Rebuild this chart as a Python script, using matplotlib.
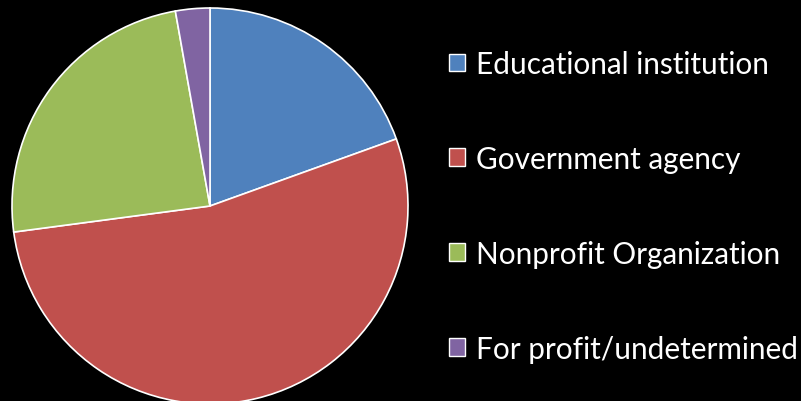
import matplotlib
matplotlib.use("Agg")
import matplotlib.pyplot as plt

labels = ["Educational institution", "Government agency",
          "Nonprofit Organization", "For profit/undetermined"]
shares = [19.5, 53.4, 24.3, 2.8]
colors = ["#4f81bd", "#c0504d", "#9bbb59", "#8064a2"]

fig = plt.figure(figsize=(8.01, 4.02), dpi=100, facecolor="black")
ax = fig.add_axes([12 / 801, -3 / 402, 396 / 801, 396 / 402])
ax.set_facecolor("black")

wedges, _ = ax.pie(shares, colors=colors, startangle=90, counterclock=False,
                   wedgeprops=dict(edgecolor="white", linewidth=1.2))
ax.set_xlim(-1.0, 1.0)
ax.set_ylim(-1.0, 1.0)
ax.set_aspect("equal")

leg = fig.legend(wedges, labels, loc="upper left", bbox_to_anchor=(449 / 801, 1 - 51 / 402),
                 frameon=False, prop=dict(family="Lato", size=21.4),
                 labelcolor="white", handlelength=0.54, handleheight=0.54,
                 handletextpad=0.36, labelspacing=2.25, borderpad=0, borderaxespad=0)
for h in leg.legend_handles:
    h.set_edgecolor("white")
    h.set_linewidth(1.0)

fig.savefig("out.png", dpi=100, facecolor="black")
